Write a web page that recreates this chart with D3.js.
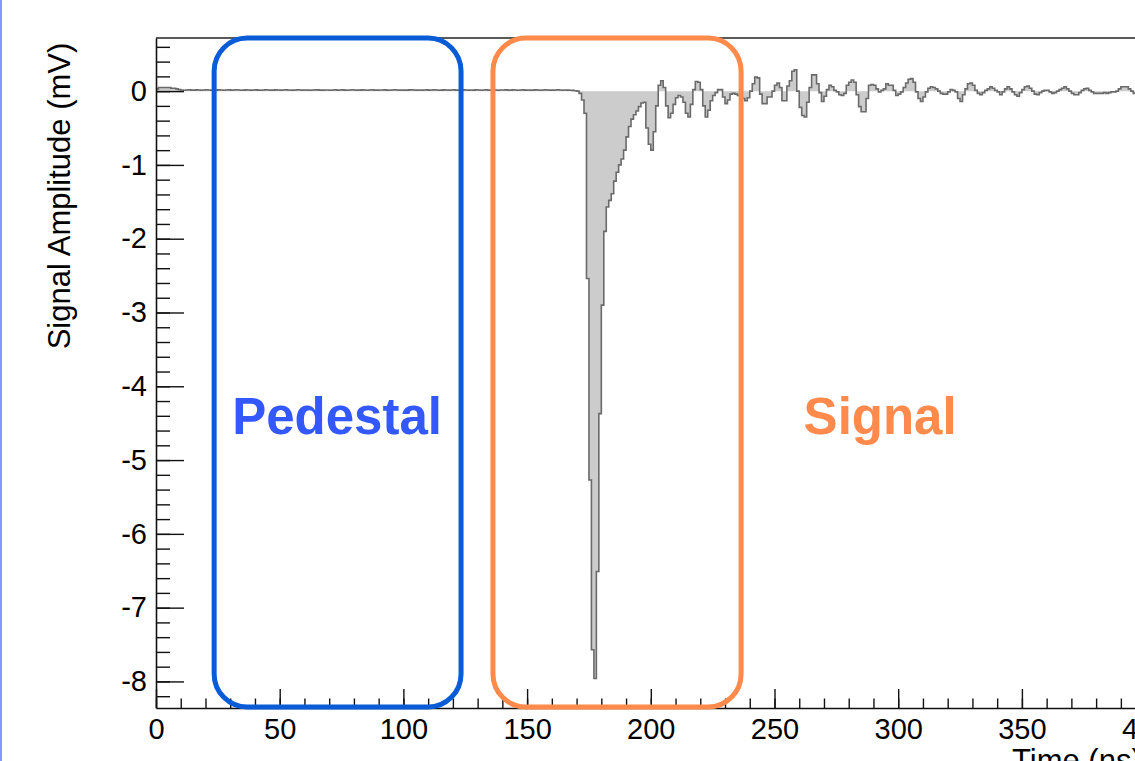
<!DOCTYPE html>
<html>
<head>
<meta charset="utf-8">
<script src="https://cdn.jsdelivr.net/npm/d3@7"></script>
<style>
  body { margin: 0; background: #fff; }
  svg { display: block; }
</style>
</head>
<body>
<div id="graph"></div>
<script>
// waveform: one value per 1 ns bin, starting at t = 0
var binWidth = 1;
var amplitude = [
  0.03, 0.05, 0.05, 0.05, 0.05, 0.05, 0.04, 0.04, 0.03, 0.02,             // 0-9
  0.015, 0.012, 0.016, 0.018, 0.014, 0.013, 0.017, 0.015, 0.012, 0.016,   // 10-19
  0.018, 0.015, 0.013, 0.016, 0.014, 0.017, 0.015, 0.012, 0.016, 0.018,   // 20-29
  0.014, 0.016, 0.019, 0.015, 0.012, 0.014, 0.017, 0.016, 0.013, 0.015,   // 30-39
  0.017, 0.014, 0.012, 0.016, 0.018, 0.015, 0.013, 0.014, 0.017, 0.016,   // 40-49
  0.013, 0.015, 0.018, 0.016, 0.012, 0.014, 0.016, 0.019, 0.015, 0.013,   // 50-59
  0.016, 0.014, 0.012, 0.015, 0.018, 0.017, 0.014, 0.013, 0.016, 0.015,   // 60-69
  0.012, 0.016, 0.018, 0.014, 0.015, 0.017, 0.013, 0.012, 0.016, 0.019,   // 70-79
  0.015, 0.013, 0.014, 0.017, 0.016, 0.012, 0.015, 0.018, 0.014, 0.013,   // 80-89
  0.016, 0.015, 0.017, 0.014, 0.012, 0.016, 0.019, 0.015, 0.013, 0.016,   // 90-99
  0.014, 0.012, 0.017, 0.018, 0.015, 0.013, 0.016, 0.014, 0.015, 0.017,   // 100-109
  0.013, 0.016, 0.018, 0.015, 0.012, 0.014, 0.017, 0.016, 0.013, 0.015,   // 110-119
  0.018, 0.014, 0.012, 0.016, 0.017, 0.015, 0.013, 0.016, 0.014, 0.019,   // 120-129
  0.015, 0.012, 0.016, 0.018, 0.014, 0.013, 0.017, 0.015, 0.012, 0.016,   // 130-139
  0.015, 0.017, 0.013, 0.014, 0.018, 0.016, 0.012, 0.015, 0.017, 0.014,   // 140-149
  0.016, 0.014, 0.013, 0.017, 0.015, 0.012, 0.016, 0.018, 0.015, 0.014,   // 150-159
  0.013, 0.016, 0.018, 0.015, 0.012, 0.015, 0.014, 0.012, 0.010, 0.005,   // 160-169
  0.0,                                                                    // 170
  -0.03, -0.12, -0.3, -2.54, -5.27, -7.57, -7.96, -6.51, -4.37,            // 171-179
  -2.9, -1.9, -1.57, -1.48, -1.39, -1.22, -1.1, -1.0, -0.92, -0.8,        // 180-189
  -0.62, -0.48, -0.38, -0.32, -0.27, -0.21, -0.16, -0.15, -0.5, -0.72,    // 190-199
  -0.8, -0.55, -0.2, 0.08, 0.14, 0.05, -0.2, -0.36, -0.3, -0.18,          // 200-209
  -0.09, -0.06, -0.08, -0.15, -0.3, -0.35, -0.18, 0.02, 0.13, 0.12,       // 210-219
  0.02, -0.2, -0.35, -0.26, -0.13, -0.06, -0.02, 0.02, 0.02, -0.08,       // 220-229
  -0.17, -0.12, -0.04, -0.03, -0.04, -0.06, -0.08, -0.10, -0.13, -0.09,   // 230-239
  0.0, 0.10, 0.19, 0.18, -0.04, -0.17, -0.17, -0.08, -0.08, 0.0,          // 240-249
  0.08, 0.11, 0.05, -0.13, -0.13, 0.07, 0.14, 0.27, 0.29, 0.0,            // 250-259
  -0.22, -0.33, -0.35, -0.15, 0.05, 0.22, 0.22, 0.10, -0.02, -0.14,       // 260-269
  -0.07, 0.02, 0.08, 0.06, 0.01, -0.01, -0.05, -0.06, -0.03, 0.08,        // 270-279
  0.12, 0.15, 0.12, -0.05, -0.21, -0.28, -0.28, -0.10, 0.08, 0.09,        // 280-289
  0.08, 0.03, -0.01, 0.01, 0.03, 0.10, 0.08, 0.08, 0.01, -0.06,           // 290-299
  -0.04, -0.01, 0.05, 0.11, 0.16, 0.17, 0.12, -0.01, -0.10, -0.14,        // 300-309
  -0.08, -0.01, 0.04, 0.06, 0.05, 0.03, 0.0, -0.03, -0.04, -0.04,         // 310-319
  -0.01, 0.02, 0.01, -0.01, -0.10, -0.14, -0.05, 0.03, 0.10, 0.11,        // 320-329
  0.08, 0.01, -0.03, -0.05, -0.02, 0.01, 0.03, 0.06, 0.04, 0.01,          // 330-339
  -0.01, -0.05, -0.01, 0.03, 0.06, 0.03, -0.01, -0.05, -0.07, -0.02,      // 340-349
  0.02, 0.06, 0.07, 0.04, 0.0, -0.04, -0.05, -0.02, 0.0, 0.01,            // 350-359
  0.01, -0.01, -0.03, -0.02, 0.0, 0.02, 0.04, 0.06, 0.03, 0.0,            // 360-369
  -0.03, -0.05, -0.05, -0.02, 0.01, 0.03, 0.04, 0.01, -0.01, -0.03,       // 370-379
  -0.03, -0.03, -0.03, -0.02, -0.03, -0.02, -0.01, -0.01, 0.0, 0.03,      // 380-389
  0.06, 0.06, 0.06, 0.03, 0.0, -0.03, -0.03, -0.02, -0.01, 0.0            // 390-399
];

var xMajorTicks = [0, 50, 100, 150, 200, 250, 300, 350, 400];
var yMajorTicks = [-8, -7, -6, -5, -4, -3, -2, -1, 0];

// analysis windows (ns)
var windowNames = ["Pedestal", "Signal"];
var windowStart = [23.5, 136.2];
var windowEnd = [123.3, 236.5];
var windowColors = ["#0a5cd6", "#ff8a4c"];
var labelColors = ["#3358ff", "#ff8a4c"];
var labelTimes = [73.2, 292.7];
var labelValues = [-4.65, -4.65];

var width = 1135, height = 761;
var plot = { left: 156, top: 38, bottom: 708 };

var svg = d3.select("#graph").append("svg")
    .attr("width", width)
    .attr("height", height)
    .style("font-family", "'Liberation Sans', Arial, Helvetica, sans-serif");

// left slide border
svg.append("rect").attr("x", 0).attr("y", 0).attr("width", 2).attr("height", height)
    .attr("fill", "#8a97ff");

var x = d3.scaleLinear()
    .domain([0, 410])
    .range([plot.left, plot.left + 410 * 2.474]);
var y = d3.scaleLinear()
    .domain([-8.36, 0.72])
    .range([plot.bottom, plot.top]);

var pts = amplitude.map(function(v, i) { return [i * binWidth, v]; });
pts.push([amplitude.length * binWidth, amplitude[amplitude.length - 1]]);

svg.append("path")
    .datum(pts)
    .attr("fill", "#cccccc")
    .attr("d", d3.area()
        .curve(d3.curveStepAfter)
        .x(function(d) { return x(d[0]); })
        .y0(y(0))
        .y1(function(d) { return y(d[1]); }));

svg.append("path")
    .datum(pts)
    .attr("fill", "none")
    .attr("stroke", "#6a6a6a")
    .attr("stroke-width", 1.6)
    .attr("d", d3.line()
        .curve(d3.curveStepAfter)
        .x(function(d) { return x(d[0]); })
        .y(function(d) { return y(d[1]); }));

// frame (top line)
svg.append("line")
    .attr("x1", plot.left).attr("x2", width)
    .attr("y1", plot.top).attr("y2", plot.top)
    .attr("stroke", "#222").attr("stroke-width", 1.5);

// X axis
var xMinor = d3.range(0, 411, 10);
svg.append("g")
    .attr("transform", "translate(0," + plot.bottom + ")")
    .call(d3.axisBottom(x).tickValues(xMinor).tickSizeInner(-9.5).tickSizeOuter(0).tickFormat(""))
    .call(function(g) { g.select(".domain").remove(); });
var xAxis = svg.append("g")
    .attr("transform", "translate(0," + plot.bottom + ")")
    .call(d3.axisBottom(x).tickValues(xMajorTicks).tickSizeInner(-19).tickSizeOuter(0)
        .tickPadding(10.5).tickFormat(function(d) { return String(d); }));

// Y axis
var yMinor = d3.range(-41, 4).map(function(k) { return k * 0.2; });
svg.append("g")
    .attr("transform", "translate(" + plot.left + ",0)")
    .call(d3.axisLeft(y).tickValues(yMinor).tickSizeInner(-14).tickSizeOuter(0).tickFormat(""))
    .call(function(g) { g.select(".domain").remove(); });
var yAxis = svg.append("g")
    .attr("transform", "translate(" + plot.left + ",0)")
    .call(d3.axisLeft(y).tickValues(yMajorTicks).tickSizeInner(-28).tickSizeOuter(0)
        .tickPadding(9).tickFormat(function(d) { return String(d); }));

svg.selectAll(".tick line").attr("stroke", "#111").attr("stroke-width", 1.4);
svg.selectAll(".domain").attr("stroke", "#111").attr("stroke-width", 1.6);
svg.selectAll(".tick text")
    .attr("font-size", 29)
    .attr("font-family", "'Liberation Sans', Arial, Helvetica, sans-serif")
    .attr("fill", "#000");

// axis titles (the x title runs off the right edge, as in the source image)
svg.append("text")
    .attr("x", 1012).attr("y", 771)
    .attr("font-size", 31)
    .text("Time (ns)");
svg.append("text")
    .attr("transform", "translate(70," + 196 + ") rotate(-90)")
    .attr("text-anchor", "middle")
    .attr("font-size", 31)
    .text("Signal Amplitude (mV)");

// window boxes
windowNames.forEach(function(name, i) {
    svg.append("rect")
        .attr("x", x(windowStart[i]))
        .attr("y", plot.top)
        .attr("width", x(windowEnd[i]) - x(windowStart[i]))
        .attr("height", plot.bottom - 1 - plot.top)
        .attr("rx", 33).attr("ry", 33)
        .attr("fill", "none")
        .attr("stroke", windowColors[i])
        .attr("stroke-width", 5);
    svg.append("text")
        .attr("x", x(labelTimes[i]))
        .attr("y", y(labelValues[i]))
        .attr("text-anchor", "middle")
        .attr("font-size", 51)
        .attr("font-weight", "bold")
        .attr("fill", labelColors[i])
        .text(name);
});
</script>
</body>
</html>
